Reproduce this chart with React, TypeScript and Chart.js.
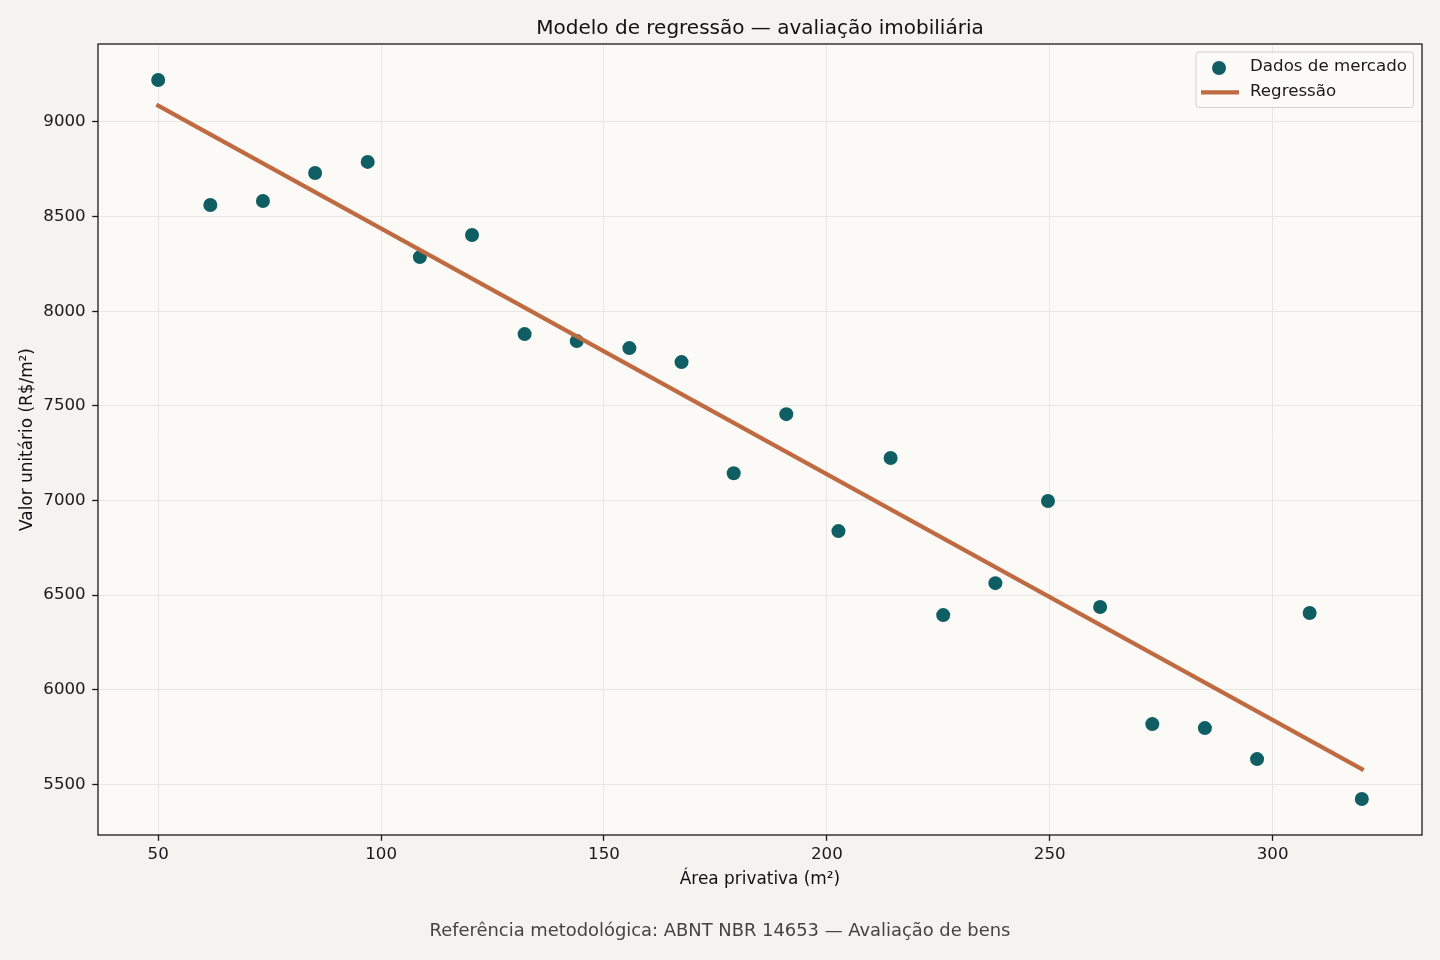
import { useEffect, useRef } from "react";
import { Chart, registerables, type ChartOptions, type Plugin } from "chart.js";

Chart.register(...registerables);

// market sample: private area (m²) vs unit value (R$/m²)
const areaM2 = [
  50, 61.7, 73.5, 85.2, 97, 108.7, 120.4, 132.2, 143.9, 155.7, 167.4, 179.1,
  190.9, 202.6, 214.3, 226.1, 237.8, 249.6, 261.3, 273, 284.8, 296.5, 308.3, 320
];
const valorM2 = [
  9222, 8561, 8582, 8730, 8789, 8286, 8403, 7879, 7842, 7805, 7731, 7144,
  7456, 6838, 7224, 6394, 6563, 6997, 6437, 5818, 5797, 5633, 6405, 5422
];

// fitted line end points
const regArea = [50, 320];
const regValor = [9086, 5580];

const xTicks = [50, 100, 150, 200, 250, 300];
const yTicks = [5500, 6000, 6500, 7000, 7500, 8000, 8500, 9000];
const xRange = [36.5, 333.5];
const yRange = [5232, 9412];

const TITLE = "Modelo de regressão — avaliação imobiliária";
const FOOTER = "Referência metodológica: ABNT NBR 14653 — Avaliação de bens";

const FONT = "'DejaVu Sans', Verdana, sans-serif";
const FIG_BG = "#f4f3ef";
const AX_BG = "#fbfaf7";
const TEAL = "#0f5e63";
const TERRA = "#c06a42";
const INK = "#1a1a1a";

const chrome: Plugin<"scatter"> = {
  id: "chrome",
  beforeDraw(chart) {
    const { ctx, chartArea: a, width, height } = chart;
    ctx.save();
    ctx.fillStyle = FIG_BG;
    ctx.fillRect(0, 0, width, height);
    ctx.fillStyle = AX_BG;
    ctx.fillRect(a.left, a.top, a.right - a.left, a.bottom - a.top);
    ctx.restore();
  },
  afterDraw(chart) {
    const { ctx, chartArea: a, width } = chart;
    ctx.save();

    // spines
    ctx.strokeStyle = INK;
    ctx.lineWidth = 1.3;
    ctx.strokeRect(a.left, a.top, a.right - a.left, a.bottom - a.top);

    // title and footer
    ctx.fillStyle = "#111";
    ctx.textAlign = "center";
    ctx.textBaseline = "alphabetic";
    ctx.font = `20px ${FONT}`;
    ctx.fillText(TITLE, (a.left + a.right) / 2, 34);
    ctx.fillStyle = "#444";
    ctx.font = `17.9px ${FONT}`;
    ctx.fillText(FOOTER, width / 2, 936);

    // legend in the upper right corner
    const ds = chart.data.datasets;
    ctx.font = `16.67px ${FONT}`;
    const textW = Math.max(...ds.map((d) => ctx.measureText(String(d.label)).width));
    const right = a.right - 8.5;
    const top = a.top + 8;
    const left = right - (54 + textW + 6.5);
    const h = 55.5;
    ctx.beginPath();
    ctx.roundRect(left, top, right - left, h, 3);
    ctx.fillStyle = "rgba(251,250,247,0.85)";
    ctx.fill();
    ctx.strokeStyle = "#d3d1cc";
    ctx.lineWidth = 1;
    ctx.stroke();

    ctx.textAlign = "left";
    ctx.textBaseline = "middle";
    ds.forEach((d, i) => {
      const y = top + 16 + i * 24.3;
      if (d.showLine) {
        ctx.strokeStyle = String(d.borderColor);
        ctx.lineWidth = 4.2;
        ctx.beginPath();
        ctx.moveTo(left + 5, y);
        ctx.lineTo(left + 43, y);
        ctx.stroke();
      } else {
        ctx.fillStyle = String(d.backgroundColor);
        ctx.beginPath();
        ctx.arc(left + 23, y, 7, 0, Math.PI * 2);
        ctx.fill();
      }
      ctx.fillStyle = INK;
      ctx.fillText(String(d.label), left + 54, y - 1);
    });

    ctx.restore();
  }
};

export default function App() {
  const canvasRef = useRef<HTMLCanvasElement | null>(null);
  const chartRef = useRef<Chart<"scatter"> | null>(null);

  useEffect(() => {
    if (!canvasRef.current) return;
    if (chartRef.current) chartRef.current.destroy();

    const tickFont = { family: FONT, size: 16.67 };
    const titleFont = { family: FONT, size: 16.9, lineHeight: 1 };

    const options: ChartOptions<"scatter"> = {
      responsive: false,
      animation: false,
      events: [],
      layout: { padding: { left: 0, top: 44, right: 18, bottom: 0 } },
      plugins: { legend: { display: false }, tooltip: { enabled: false } },
      scales: {
        x: {
          type: "linear",
          min: xRange[0],
          max: xRange[1],
          afterBuildTicks: (s) => {
            s.ticks = xTicks.map((value) => ({ value }));
          },
          afterFit: (s) => {
            s.height = 125;
          },
          grid: { color: "#e9e7e2", lineWidth: 1, tickColor: INK, tickLength: 5.8, tickWidth: 1.3 },
          border: { display: false },
          ticks: { font: tickFont, color: INK, padding: 4, maxRotation: 0, callback: (v) => String(v) },
          title: {
            display: true,
            text: "Área privativa (m²)",
            font: titleFont,
            color: "#111",
            padding: { top: 0, bottom: 71.5 }
          }
        },
        y: {
          type: "linear",
          min: yRange[0],
          max: yRange[1],
          afterBuildTicks: (s) => {
            s.ticks = yTicks.map((value) => ({ value }));
          },
          afterFit: (s) => {
            s.width = 98;
          },
          grid: { color: "#e9e7e2", lineWidth: 1, tickColor: INK, tickLength: 5.8, tickWidth: 1.3 },
          border: { display: false },
          ticks: { font: tickFont, color: INK, padding: 6.5, callback: (v) => String(v) },
          title: {
            display: true,
            text: "Valor unitário (R$/m²)",
            font: titleFont,
            color: "#111",
            padding: { top: 19, bottom: 0 }
          }
        }
      }
    };

    chartRef.current = new Chart(canvasRef.current, {
      type: "scatter",
      data: {
        datasets: [
          {
            label: "Dados de mercado",
            data: areaM2.map((x, i) => ({ x, y: valorM2[i] })),
            backgroundColor: TEAL,
            borderColor: TEAL,
            borderWidth: 0,
            pointRadius: 7,
            order: 1
          },
          {
            label: "Regressão",
            data: regArea.map((x, i) => ({ x, y: regValor[i] })),
            showLine: true,
            borderColor: TERRA,
            backgroundColor: TERRA,
            borderWidth: 4.2,
            borderCapStyle: "square",
            pointRadius: 0,
            order: 0
          }
        ]
      },
      options,
      plugins: [chrome]
    });

    return () => chartRef.current?.destroy();
  }, []);

  return (
    <div style={{ position: "fixed", left: 0, top: 0, width: 1440, height: 960, background: FIG_BG }}>
      <canvas ref={canvasRef} width={1440} height={960} style={{ display: "block" }} />
    </div>
  );
}
